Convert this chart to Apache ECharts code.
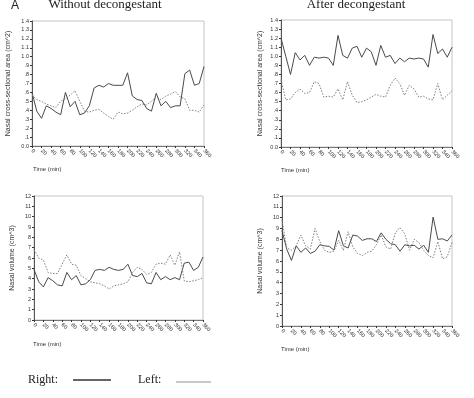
<!DOCTYPE html>
<html><head><meta charset="utf-8">
<script src="https://cdn.jsdelivr.net/npm/echarts@6/dist/echarts.min.js"></script>
<style>html,body{margin:0;padding:0;background:#fff}#c{width:474px;height:398px}</style>
</head><body><div id="c"></div>
<script>
// Time points (min)
var times = [0,10,20,30,40,50,60,70,80,90,100,110,120,130,140,150,160,170,180,190,200,210,220,230,240,250,260,270,280,290,300,310,320,330,340,350,360];
var timeTicks = [0,20,40,60,80,100,120,140,160,180,200,220,240,260,280,300,320,340,360];
// Cross-sectional area (cm^2), without decongestant
var areaRightWithout = [0.60,0.39,0.31,0.45,0.42,0.38,0.35,0.60,0.44,0.50,0.35,0.37,0.45,0.65,0.68,0.66,0.70,0.68,0.68,0.68,0.82,0.56,0.52,0.51,0.42,0.39,0.59,0.45,0.50,0.43,0.45,0.45,0.81,0.85,0.68,0.70,0.89];
var areaLeftWithout  = [0.57,0.52,0.50,0.47,0.45,0.43,0.50,0.53,0.57,0.62,0.50,0.39,0.38,0.40,0.41,0.37,0.33,0.30,0.38,0.36,0.37,0.40,0.44,0.47,0.46,0.50,0.55,0.52,0.56,0.58,0.61,0.55,0.53,0.40,0.40,0.38,0.46];
// Cross-sectional area (cm^2), after decongestant
var areaRightAfter = [1.20,1.00,0.80,1.04,0.96,1.01,0.90,0.99,0.98,0.99,0.98,0.90,1.23,1.01,0.98,1.09,1.11,0.99,1.09,1.05,0.90,1.12,0.99,1.01,0.92,0.98,0.94,0.98,0.97,0.98,0.97,0.88,1.24,1.03,1.08,0.99,1.10];
var areaLeftAfter  = [0.74,0.52,0.53,0.60,0.64,0.59,0.60,0.72,0.70,0.55,0.56,0.55,0.64,0.52,0.72,0.57,0.49,0.50,0.52,0.55,0.58,0.56,0.55,0.68,0.76,0.70,0.57,0.68,0.64,0.55,0.56,0.53,0.52,0.70,0.52,0.57,0.62];
// Nasal volume (cm^3), without decongestant
var volRightWithout = [4.9,3.7,3.2,4.1,3.8,3.4,3.3,4.6,3.9,4.3,3.4,3.5,3.9,4.8,4.9,4.8,5.1,4.9,4.8,4.9,5.4,4.3,4.2,4.5,3.6,3.5,4.6,3.9,4.2,3.9,4.1,3.9,5.5,5.6,4.8,5.1,6.1];
var volLeftWithout  = [6.8,6.0,5.8,4.6,4.5,4.5,5.4,6.3,5.4,5.3,4.3,4.0,3.7,3.6,3.5,3.3,3.0,3.3,3.4,3.5,3.7,4.6,5.1,4.9,4.4,4.6,5.4,5.5,5.4,6.3,5.3,6.6,3.8,3.7,3.8,3.9,4.1];
// Nasal volume (cm^3), after decongestant
var volRightAfter = [8.8,7.1,6.05,7.4,6.8,7.2,6.7,6.9,7.5,7.4,7.35,7.0,8.8,7.4,7.2,8.4,8.3,7.9,8.05,8.05,7.8,8.6,8.0,7.6,7.5,6.9,7.5,7.4,7.45,7.1,7.45,6.8,10.05,8.0,8.05,7.85,8.4];
var volLeftAfter  = [9.8,7.2,7.0,7.4,8.4,7.4,7.1,9.0,7.8,7.0,6.8,6.9,7.9,7.0,8.7,7.3,6.7,6.5,6.8,6.9,7.5,8.4,7.3,7.1,8.6,9.1,8.5,7.0,8.0,7.7,7.0,6.5,6.3,7.8,6.2,6.4,7.7];

var areaName = 'Nasal cross-sectional area (cm^2)';
var volName = 'Nasal volume (cm^3)';

function pts(v){ return times.map(function(t,i){ return [t, v[i]]; }); }

var grids = [
  {left:32, top:21, width:172, height:125},
  {left:281, top:20, width:171, height:127},
  {left:34, top:196, width:169, height:124},
  {left:282, top:196, width:170, height:130}
];
grids.forEach(function(g){ g.show = true; g.borderColor = '#c4c4c4'; g.borderWidth = 1; g.backgroundColor = 'transparent'; });

var lab = {fontFamily:'Liberation Sans, Arial, sans-serif', fontSize:5.5, color:'#333'};

function xAx(i){
  return {type:'value', gridIndex:i, min:timeTicks[0], max:timeTicks[timeTicks.length-1], interval:timeTicks[1]-timeTicks[0],
    axisLine:{show:true, lineStyle:{color:'#777', width:1}},
    axisTick:{show:true, length:2, lineStyle:{color:'#333'}},
    splitLine:{show:false},
    axisLabel:Object.assign({rotate:-45, margin:4}, lab)};
}
function yAx(i, isArea, gap){
  return {type:'value', gridIndex:i, min:0, max:isArea?1.4:12, interval:isArea?0.1:1,
    name:isArea?areaName:volName, nameLocation:'middle', nameGap:gap, nameRotate:90,
    nameTextStyle:{fontFamily:'Liberation Sans, Arial, sans-serif', fontSize:7, color:'#333'},
    axisLine:{show:true, lineStyle:{color:'#555', width:1}},
    axisTick:{show:true, length:2, lineStyle:{color:'#333'}},
    splitLine:{show:false},
    axisLabel:Object.assign({margin:3, formatter:function(v){
      if(!isArea) return String(Math.round(v));
      var r = Math.round(v*10)/10;
      if(r===0) return '0.0';
      if(r<1) return '.' + Math.round(r*10);
      return r.toFixed(1);
    }}, lab)};
}

function ser(i, data, right){
  return {type:'line', xAxisIndex:i, yAxisIndex:i, data:pts(data), symbol:'none', silent:true,
    lineStyle:right?{color:'#4a4a4a', width:1, type:'solid'}:{color:'#808080', width:1, type:[1.5,1.5]}};
}

var serif = 'Liberation Serif, Times New Roman, serif';
var option = {
  animation:false,
  backgroundColor:'#fff',
  grid:grids,
  xAxis:[xAx(0),xAx(1),xAx(2),xAx(3)],
  yAxis:[yAx(0,true,20),yAx(1,true,17),yAx(2,false,18),yAx(3,false,18)],
  series:[
    ser(0, areaRightWithout, true), ser(0, areaLeftWithout, false),
    ser(1, areaRightAfter, true), ser(1, areaLeftAfter, false),
    ser(2, volRightWithout, true), ser(2, volLeftWithout, false),
    ser(3, volRightAfter, true), ser(3, volLeftAfter, false)
  ],
  graphic:[
    {type:'text', left:11, top:0, style:{text:'A', font:'12px Liberation Sans, Arial, sans-serif', fill:'#222'}},
    {type:'text', x:105, y:5, style:{text:'Without decongestant', font:'13px '+serif, fill:'#222', textAlign:'center', textVerticalAlign:'middle'}},
    {type:'text', x:356, y:5, style:{text:'After decongestant', font:'13px '+serif, fill:'#222', textAlign:'center', textVerticalAlign:'middle'}},
    {type:'text', x:33, y:169, style:{text:'Time (min)', font:'6px Liberation Sans, Arial, sans-serif', fill:'#333', textVerticalAlign:'middle'}},
    {type:'text', x:281, y:170, style:{text:'Time (min)', font:'6px Liberation Sans, Arial, sans-serif', fill:'#333', textVerticalAlign:'middle'}},
    {type:'text', x:33, y:344, style:{text:'Time (min)', font:'6px Liberation Sans, Arial, sans-serif', fill:'#333', textVerticalAlign:'middle'}},
    {type:'text', x:281, y:349, style:{text:'Time (min)', font:'6px Liberation Sans, Arial, sans-serif', fill:'#333', textVerticalAlign:'middle'}},
    {type:'text', x:28, y:380, style:{text:'Right:', font:'12px '+serif, fill:'#222', textVerticalAlign:'middle'}},
    {type:'line', shape:{x1:73, y1:380, x2:111, y2:380}, style:{stroke:'#333', lineWidth:1.3}},
    {type:'text', x:138, y:380, style:{text:'Left:', font:'12px '+serif, fill:'#222', textVerticalAlign:'middle'}},
    {type:'line', shape:{x1:176, y1:382, x2:211, y2:382}, style:{stroke:'#777', lineWidth:0.8}}
  ]
};
var chart = echarts.init(document.getElementById('c'), null, {renderer:'canvas'});
chart.setOption(option);
</script></body></html>
